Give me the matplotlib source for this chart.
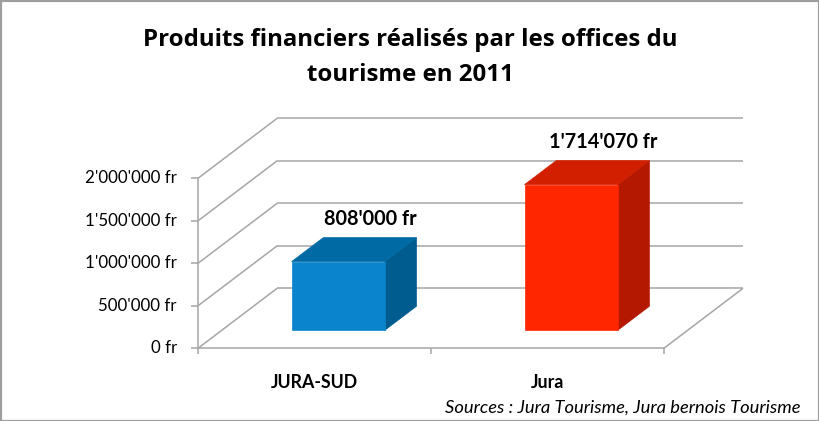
import matplotlib
matplotlib.use('Agg')
import matplotlib.pyplot as plt
from matplotlib.patches import Polygon, Rectangle

# ---------------- data ----------------
categories = ['JURA-SUD', 'Jura']
values = [808000, 1714070]
value_labels = ["808'000 fr", "1'714'070 fr"]
tick_values = [0, 500000, 1000000, 1500000, 2000000]
tick_labels = ["0 fr", "500'000 fr", "1'000'000 fr", "1'500'000 fr", "2'000'000 fr"]
title_lines = ["Produits financiers réalisés par les offices du", "tourisme en 2011"]
source = "Sources : Jura Tourisme, Jura bernois Tourisme"

front_colors = ['#0A84CC', '#FF2600']
top_colors = ['#006AA5', '#D21F00']
side_colors = ['#005C8F', '#B41800']
grid_color = '#A6A6A6'

FONT = 'Lato'
TITLE_FONT = 'Open Sans'

# ---------------- layout ----------------
W, H = 820, 421
fig = plt.figure(figsize=(W / 100, H / 100), dpi=100)
fig.patch.set_facecolor('white')

L, R, B, T = 198, 743, 348.3, 118.3
ax = fig.add_axes([L / W, 1 - B / H, (R - L) / W, (B - T) / H])
ax.set_axis_off()

n = len(categories)
ymax = tick_values[-1]
px_per_x = (663 - 198) / n
DX = 79 / px_per_x
px_per_y = (348.3 - 178.3) / ymax
DY = 60 / px_per_y
ax.set_xlim(0, n + DX)
ax.set_ylim(0, ymax + DY)

lw = 1.1
kw = dict(color=grid_color, lw=lw, clip_on=False, solid_capstyle='butt', zorder=1)

# walls / gridlines
for t in tick_values:
    ax.plot([0, DX], [t, t + DY], **kw)
    ax.plot([DX, n + DX], [t + DY, t + DY], **kw)
# front vertical axis
ax.plot([0, 0], [0, ymax], **kw)
# floor front and right edges
ax.plot([0, n], [0, 0], **kw)
ax.plot([n, n + DX], [0, DY], **kw)

# y ticks and labels
tick_len_x = 7 / px_per_x
for t, lab in zip(tick_values, tick_labels):
    ax.plot([-tick_len_x, 0], [t, t], **kw)
    ax.text(-21 / px_per_x, t, lab, ha='right', va='center', fontsize=12.2,
            family=FONT, color='black', clip_on=False)

# category ticks and labels
tick_len_y = 6 / px_per_y
for i in range(n + 1):
    ax.plot([i, i], [0, -tick_len_y], **kw)
for i, c in enumerate(categories):
    ax.text(i + 0.5, -34.7 / px_per_y, c, ha='center', va='center', fontsize=12.8,
            family=FONT, fontweight='bold', color='black', clip_on=False)

# pseudo-3D bars
d0, d1 = 0.3, 0.7


def proj(x, y, d):
    return (x + d * DX, y + d * DY)


for i, v in enumerate(values):
    x0, x1 = i + 0.3, i + 0.7
    front = [proj(x0, 0, d0), proj(x1, 0, d0), proj(x1, v, d0), proj(x0, v, d0)]
    top = [proj(x0, v, d0), proj(x1, v, d0), proj(x1, v, d1), proj(x0, v, d1)]
    side = [proj(x1, 0, d0), proj(x1, 0, d1), proj(x1, v, d1), proj(x1, v, d0)]
    for poly, col in ((side, side_colors[i]), (top, top_colors[i]), (front, front_colors[i])):
        ax.add_patch(Polygon(poly, closed=True, facecolor=col, edgecolor=col,
                             lw=0.5, zorder=3))
    lx, ly = proj(i + 0.5, v, d1)
    ax.text(lx, ly + 19 / px_per_y, value_labels[i], ha='center', va='center',
            fontsize=14.3, family=FONT, fontweight='bold', color='black', zorder=4)

# title
fig.text(410 / W, 1 - 46 / H, title_lines[0], ha='center', va='baseline',
         fontsize=17.3, family=TITLE_FONT, fontweight='bold', color='black')
fig.text(410 / W, 1 - 81 / H, title_lines[1], ha='center', va='baseline',
         fontsize=17.3, family=TITLE_FONT, fontweight='bold', color='black')

# source
fig.text(801 / W, 1 - 408 / H, source, ha='right', va='center', fontsize=13.2,
         family=FONT, style='italic', color='black')

# outer border
fig.patches.append(Rectangle((0.5 / W, 0.5 / H), 1 - 1.5 / W, 1 - 1.5 / H,
                             transform=fig.transFigure, fill=False,
                             edgecolor='#9E9E9E', lw=1.6))

fig.savefig('out.png', dpi=100, facecolor='white')
